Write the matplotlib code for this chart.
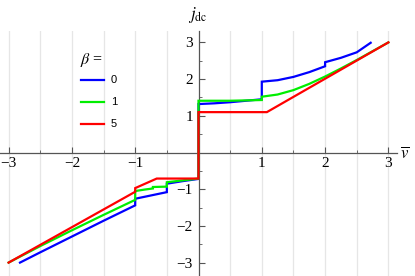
import matplotlib
matplotlib.use("Agg")
import matplotlib.pyplot as plt
import numpy as np

# data
x_beta0 = [-2.82, -2.5, -2.0, -1.5, -1.0, -1.0, -0.75, -0.5, -0.5, -0.25, 0.0, 0.0,
           0.25, 0.5, 0.75, 1.0, 1.0, 1.25, 1.5, 1.75, 2.0, 2.0, 2.25, 2.5, 2.72]
y_beta0 = [-3.0, -2.72, -2.29, -1.86, -1.44, -1.26, -1.17, -1.08, -0.85, -0.78, -0.72, 1.32,
           1.34, 1.37, 1.41, 1.45, 1.93, 1.97, 2.06, 2.19, 2.35, 2.46, 2.58, 2.73, 2.99]

x_beta1 = [-3.0, -2.5, -2.0, -1.5, -1.0, -1.0, -0.85, -0.72, -0.72, -0.5, -0.5, -0.25, 0.0, 0.0,
           0.5, 1.0, 1.0, 1.25, 1.5, 1.75, 2.0, 2.25, 2.5, 2.75, 3.0]
y_beta1 = [-3.0, -2.55, -2.12, -1.70, -1.29, -1.05, -1.01, -0.98, -0.94, -0.93, -0.81, -0.76, -0.71, 1.41,
           1.41, 1.43, 1.52, 1.58, 1.70, 1.87, 2.07, 2.29, 2.52, 2.76, 3.0]

x_beta5 = [-3.0, -1.0, -1.0, -0.66, 0.0, 0.0, 1.08, 3.0]
y_beta5 = [-3.0, -1.07, -0.97, -0.71, -0.71, 1.10, 1.10, 3.0]

betas = ["0", "1", "5"]
colors = ["#0000ff", "#00ee00", "#ff0000"]
xticks = [-3, -2, -1, 1, 2, 3]
yticks = [-3, -2, -1, 1, 2, 3]

serif = ["Liberation Serif", "DejaVu Serif"]
plt.rcParams["font.family"] = serif
plt.rcParams["mathtext.fontset"] = "stix"

W, H = 415, 276
fig = plt.figure(figsize=(W / 100, H / 100), dpi=100)
x0p, unitx = 198.5, 63.3
y0p, unity = 152.5, 36.7
left_px, right_px, top_px, bot_px = 0, 396.7, 30.7, 276
ax = fig.add_axes([left_px / W, 1 - bot_px / H, (right_px - left_px) / W, (bot_px - top_px) / H])
ax.set_xlim((left_px - x0p) / unitx, (right_px - x0p) / unitx)
ax.set_ylim((y0p - bot_px) / unity, (y0p - top_px) / unity)
ax.patch.set_alpha(0)

for g in np.arange(-3, 3.01, 0.5):
    if abs(g) > 1e-9:
        ax.axvline(g, color="#e6e6e6", lw=0.9, zorder=0)

for xs, ys, c in zip([x_beta0, x_beta1, x_beta5], [y_beta0, y_beta1, y_beta5], colors):
    ax.plot(xs, ys, color=c, lw=1.6, solid_joinstyle="miter", zorder=3)

for s in ["top", "right"]:
    ax.spines[s].set_visible(False)
for s in ["left", "bottom"]:
    ax.spines[s].set_position(("data", 0))
    ax.spines[s].set_color("#555555")
    ax.spines[s].set_linewidth(0.9)

ax.set_xticks(xticks)
ax.set_yticks(yticks)
ax.set_xticks(np.arange(-3, 3.01, 0.5), minor=True)
ax.set_yticks(np.arange(-3, 3.01, 0.5), minor=True)
ax.set_xticklabels(["\u2212" + str(-t) if t < 0 else str(t) for t in xticks], fontsize=11)
ax.set_yticklabels(["\u2212" + str(-t) if t < 0 else str(t) for t in yticks], fontsize=11)
for lab in ax.get_xticklabels() + ax.get_yticklabels():
    lab.set_family(serif)
ax.tick_params(axis="both", which="major", direction="in", length=4, width=0.8, color="#555555", pad=3)
ax.tick_params(axis="both", which="minor", direction="in", length=2, width=0.6, color="#555555")
ax.tick_params(axis="x", pad=3)
ax.tick_params(axis="y", pad=4)

fig.text(198 / W, 1 - 15 / H, r"$j_{\mathrm{dc}}$", ha="center", va="center", fontsize=12)
fig.text(405 / W, 1 - 154 / H, r"$\overline{v}$", ha="center", va="center", fontsize=12)

# legend
fig.text(80 / W, 1 - 60 / H, r"$\beta$ =", ha="left", va="center", fontsize=11.5)
for i, (b, c) in enumerate(zip(betas, colors)):
    yp = 79.5 + i * 22.3
    fig.add_artist(plt.Line2D([81 / W, 104 / W], [1 - yp / H, 1 - yp / H], color=c, lw=1.6))
    fig.text(111 / W, 1 - yp / H, b, ha="left", va="center", fontsize=8,
             family=["Liberation Sans", "DejaVu Sans"])

fig.savefig("out.png", dpi=100)
